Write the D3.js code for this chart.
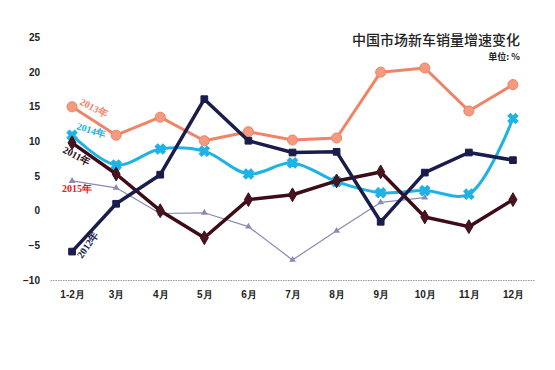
<!DOCTYPE html>
<html>
<meta charset="utf-8">
<style>
  body { margin: 0; background: #fff; }
  .axis text { font-family: "Liberation Sans", Arial, sans-serif; font-weight: bold; font-size: 10px; fill: #222; }
  .x.axis .domain { stroke: #999; stroke-dasharray: 1.5 1; }
  .y.axis .domain { display: none; }
</style>
<body>
  <script src="https://d3js.org/d3.v7.min.js"></script>
  <script>
    let width = 555,
      height = 370;

    // data
    let months = ["1-2月", "3月", "4月", "5月", "6月", "7月", "8月", "9月", "10月", "11月", "12月"];
    let yTicks = [-10, -5, 0, 5, 10, 15, 20, 25];
    let s2013 = [15.0, 10.9, 13.5, 10.1, 11.4, 10.2, 10.5, 20.0, 20.6, 14.4, 18.2];
    let s2014 = [10.9, 6.6, 8.9, 8.6, 5.3, 6.9, 4.2, 2.6, 2.9, 2.4, 13.3];
    let s2012 = [-5.9, 1.0, 5.2, 16.1, 10.1, 8.4, 8.5, -1.6, 5.5, 8.4, 7.3];
    let s2011 = [9.8, 5.3, 0.0, -3.9, 1.6, 2.3, 4.3, 5.6, -0.9, -2.3, 1.6];
    let s2015 = [4.3, 3.3, -0.4, -0.3, -2.3, -7.1, -2.9, 1.2, 1.9];

    let svg = d3.select("body").append("svg")
      .attr("width", width)
      .attr("height", height);

    let x = d3.scalePoint().domain(months).range([50, 535]).padding(0.5);
    let y = d3.scaleLinear().domain([-10, 25]).range([280, 37.5]);

    // axes
    svg.append("g")
      .attr("class", "x axis")
      .attr("transform", "translate(0," + y(-10) + ")")
      .call(d3.axisBottom(x).tickSize(0).tickSizeOuter(0).tickPadding(11));

    svg.append("g")
      .attr("class", "y axis")
      .attr("transform", "translate(40,0)")
      .call(d3.axisLeft(y).tickValues(yTicks).tickSize(0).tickPadding(0));

    function toPts(vals) {
      return vals.map((v, i) => [x(months[i]), y(v)]);
    }

    function drawLine(vals, color, w, curve) {
      let line = d3.line().curve(curve || d3.curveLinear);
      svg.append("path")
        .attr("d", line(toPts(vals)))
        .attr("fill", "none")
        .attr("stroke", color)
        .attr("stroke-width", w)
        .attr("stroke-linejoin", "round");
    }

    function drawMarkers(vals, symbol, size, fill, stroke, rot) {
      svg.append("g").selectAll("path")
        .data(toPts(vals))
        .join("path")
        .attr("transform", d => "translate(" + d[0] + "," + d[1] + ") rotate(" + (rot || 0) + ")")
        .attr("d", d3.symbol().type(symbol).size(size))
        .attr("fill", fill)
        .attr("stroke", stroke)
        .attr("stroke-width", 1);
    }

    // 2015 thin line
    drawLine(s2015, "#8c8ab4", 1.2);
    drawMarkers(s2015, d3.symbolTriangle, 20, "#8c8ab4", "none");

    // 2013
    drawLine(s2013, "#ef8466", 3);
    drawMarkers(s2013, d3.symbolCircle, 80, "#f39a80", "#ef8466");

    // 2014
    drawLine(s2014, "#1fb2e6", 3, d3.curveCatmullRom);
    drawMarkers(s2014, d3.symbolCross, 65, "#1fb2e6", "#1fb2e6", 45);

    // 2011
    drawLine(s2011, "#3e0c16", 3.5);
    drawMarkers(s2011, d3.symbolDiamond, 55, "#4a1320", "#3e0c16");

    // 2012
    drawLine(s2012, "#1a1d4c", 3.5);
    drawMarkers(s2012, d3.symbolSquare, 45, "#1a1d4c", "#1a1d4c");

    // series labels
    let labels = [
      { t: "2013年", x: 79, y: 104, r: 28, c: "#ef8466" },
      { t: "2014年", x: 76, y: 129, r: 18, c: "#1fb2e6" },
      { t: "2011年", x: 62, y: 152, r: 28, c: "#2a0a10" },
      { t: "2015年", x: 62, y: 192, r: 0, c: "#e02020" },
      { t: "2012年", x: 82, y: 259, r: -55, c: "#1a1d4c" }
    ];
    svg.append("g").selectAll("text")
      .data(labels)
      .join("text")
      .attr("transform", d => "translate(" + d.x + "," + d.y + ") rotate(" + d.r + ")")
      .attr("font-family", "'Liberation Serif', serif")
      .attr("font-weight", "bold")
      .attr("font-size", 10)
      .attr("fill", d => d.c)
      .text(d => d.t);

    // title
    svg.append("text")
      .attr("x", 520)
      .attr("y", 45)
      .attr("text-anchor", "end")
      .attr("font-family", "'Noto Sans CJK SC', sans-serif")
      .attr("font-weight", 500)
      .attr("font-size", 14)
      .attr("fill", "#222")
      .text("中国市场新车销量增速变化");

    svg.append("text")
      .attr("x", 520)
      .attr("y", 60)
      .attr("text-anchor", "end")
      .attr("font-family", "'Noto Sans CJK SC', sans-serif")
      .attr("font-weight", "bold")
      .attr("font-size", 9)
      .attr("fill", "#222")
      .text("单位: %");
  </script>
</body>
</html>
